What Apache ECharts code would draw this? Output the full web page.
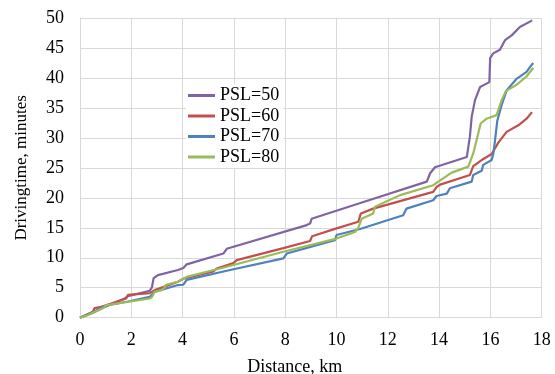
<!DOCTYPE html>
<html>
<head>
<meta charset="utf-8">
<script src="https://cdn.jsdelivr.net/npm/echarts@6/dist/echarts.min.js"></script>
<style>
html,body{margin:0;padding:0;background:#fff;}
#chart{width:555px;height:374px;}
</style>
</head>
<body>
<div id="chart"></div>
<script>
// Data: [distance km, driving time minutes]
var seriesNames = ['PSL=50', 'PSL=60', 'PSL=70', 'PSL=80'];
var xTicks = [0, 2, 4, 6, 8, 10, 12, 14, 16, 18];
var yTicks = [0, 5, 10, 15, 20, 25, 30, 35, 40, 45, 50];

var psl50 = [[0,0],[0.44,0.7],[0.96,1.8],[1.74,3.2],[1.87,3.6],[2.72,4.5],[2.8,5.0],[2.87,6.6],[3.04,7.1],[3.82,7.95],[4.03,8.3],[4.16,8.9],[5.59,10.7],[5.72,11.5],[8.84,15.45],[8.97,15.7],[9.03,16.5],[11.05,19.3],[13.52,22.7],[13.65,24.1],[13.84,25.1],[15.08,26.8],[15.2,30.2],[15.27,33.5],[15.4,36.3],[15.6,38.5],[15.96,39.3],[15.99,43.3],[16.11,44.1],[16.37,44.7],[16.57,46.3],[16.83,47.1],[17.15,48.5],[17.63,49.6]];

var psl60 = [[0,0],[0.5,1.0],[0.57,1.6],[0.83,1.8],[1.8,3.2],[1.87,3.8],[2.72,4.1],[2.91,4.6],[3.82,6.0],[4.03,6.5],[5.2,7.7],[5.33,8.2],[5.98,9.1],[6.11,9.6],[7.93,11.6],[8.97,12.8],[9.05,13.6],[10.0,14.9],[10.85,16.0],[10.95,17.4],[11.43,18.2],[13.77,21.0],[13.9,21.8],[14.04,22.2],[15.2,23.8],[15.33,25.3],[15.66,26.3],[16.05,27.3],[16.31,29.2],[16.63,31.0],[17.09,32.1],[17.41,33.2],[17.62,34.3]];

var psl70 = [[0,0],[0.5,0.9],[1.0,2.0],[1.87,2.7],[2.72,3.5],[2.91,4.3],[3.82,5.45],[4.03,5.5],[4.16,6.3],[5.85,7.95],[7.93,9.9],[8.06,10.7],[9.94,12.95],[10.0,13.8],[10.92,14.8],[12.6,17.1],[12.73,18.2],[13.77,19.6],[13.9,20.3],[14.3,20.7],[14.42,21.6],[15.27,22.7],[15.33,23.8],[15.66,24.5],[15.72,25.5],[16.05,26.3],[16.12,27.5],[16.18,29.6],[16.27,32.9],[16.44,35.5],[16.63,37.9],[17.03,39.9],[17.41,41.0],[17.54,41.8],[17.67,42.5]];

var psl80 = [[0,0],[0.31,0.45],[0.9,1.6],[1.03,2.1],[2.72,3.2],[2.8,3.4],[2.91,4.3],[3.17,4.6],[3.3,5.0],[3.35,5.5],[3.82,6.0],[4.16,6.8],[5.72,8.5],[7.93,11.0],[10.0,13.2],[10.72,14.3],[10.85,15.0],[10.98,16.5],[11.43,17.4],[11.5,18.5],[12.48,20.45],[13.77,22.1],[13.97,22.7],[14.04,22.95],[14.49,24.2],[15.14,25.2],[15.33,27.4],[15.46,29.6],[15.62,32.4],[15.85,33.2],[16.24,33.8],[16.44,36.3],[16.6,37.8],[17.0,38.8],[17.4,40.2],[17.67,41.7]];

var colors = ['#8064A2', '#C0504D', '#4F81BD', '#9BBB59'];
var allData = [psl50, psl60, psl70, psl80];

var font = '"Liberation Serif", "Times New Roman", serif';
var chart = echarts.init(document.getElementById('chart'), null, {renderer: 'canvas'});
chart.setOption({
  animation: false,
  backgroundColor: '#ffffff',
  textStyle: {fontFamily: font, color: '#000'},
  grid: {left: 80, right: 13.3, top: 18, bottom: 56.3, containLabel: false, outerBoundsMode: 'none'},
  legend: {
    orient: 'vertical',
    left: 186, top: 84.5,
    padding: [2, 4, 2, 2],
    backgroundColor: '#ffffff',
    icon: 'rect',
    itemWidth: 27, itemHeight: 3,
    itemGap: 2.5,
    itemTextGap: 2,
    data: seriesNames,
    textStyle: {fontFamily: font, fontSize: 18, color: '#000', lineHeight: 18}
  },
  xAxis: {
    type: 'value', min: xTicks[0], max: xTicks[xTicks.length - 1], interval: 2,
    name: 'Distance, km', nameLocation: 'middle', nameGap: 41,
    nameTextStyle: {fontFamily: font, fontSize: 18, color: '#000', padding: [0, 32, 0, 0]},
    axisLine: {show: true, lineStyle: {color: '#D9D9D9', width: 1}},
    axisTick: {show: false},
    axisLabel: {fontFamily: font, fontSize: 18, color: '#000', margin: 14},
    splitLine: {show: true, lineStyle: {color: '#D9D9D9', width: 1}}
  },
  yAxis: {
    type: 'value', min: yTicks[0], max: yTicks[yTicks.length - 1], interval: 5,
    name: 'Drivingtime, minutes', nameLocation: 'middle', nameGap: 50,
    nameTextStyle: {fontFamily: font, fontSize: 17, color: '#000'},
    axisLine: {show: true, lineStyle: {color: '#D9D9D9', width: 1}},
    axisTick: {show: false},
    axisLabel: {fontFamily: font, fontSize: 18, color: '#000', margin: 16},
    splitLine: {show: true, lineStyle: {color: '#D9D9D9', width: 1}}
  },
  series: seriesNames.map(function (n, i) {
    return {
      name: n, type: 'line', data: allData[i],
      showSymbol: false, symbol: 'none',
      itemStyle: {color: colors[i]},
      lineStyle: {color: colors[i], width: 2.2},
      z: 2
    };
  })
});
</script>
</body>
</html>
